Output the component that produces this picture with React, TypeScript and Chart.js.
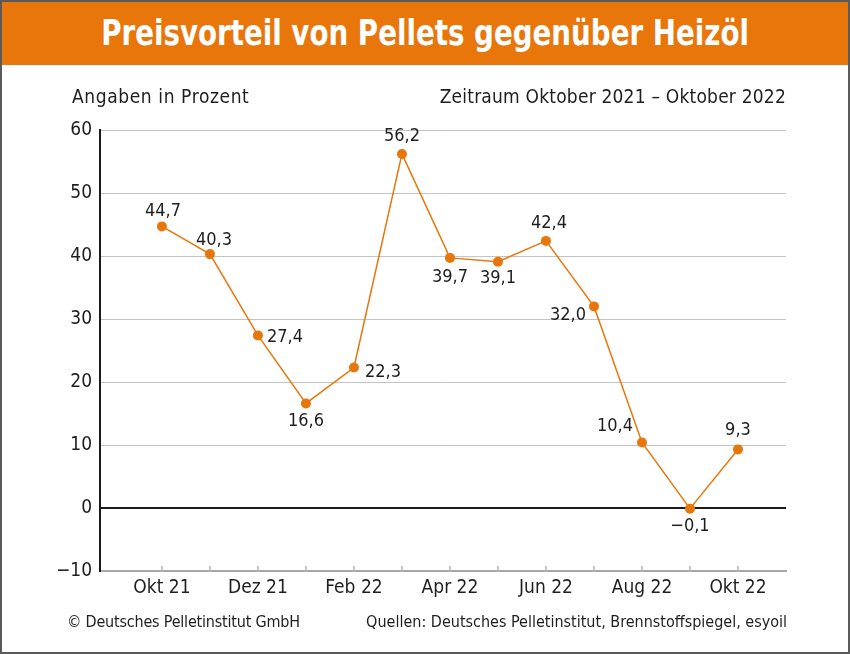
import React, { useEffect, useRef } from "react";
import { Chart, registerables } from "chart.js";

Chart.register(...registerables);

const months = ["Okt 21", "Nov 21", "Dez 21", "Jan 22", "Feb 22", "Mär 22", "Apr 22", "Mai 22", "Jun 22", "Jul 22", "Aug 22", "Sep 22", "Okt 22"];
const shownMonths = ["Okt 21", "Dez 21", "Feb 22", "Apr 22", "Jun 22", "Aug 22", "Okt 22"];
const advantage = [44.7, 40.3, 27.4, 16.6, 22.3, 56.2, 39.7, 39.1, 42.4, 32.0, 10.4, -0.1, 9.3];
const yTicks = [-10, 0, 10, 20, 30, 40, 50, 60];

// where each value label sits relative to its point
const labelPlacement: { dx: number; dy: number; align: CanvasTextAlign }[] = [
  { dx: 1, dy: -15, align: "center" },
  { dx: 4, dy: -14, align: "center" },
  { dx: 9, dy: 2, align: "left" },
  { dx: 0, dy: 18, align: "center" },
  { dx: 11, dy: 5, align: "left" },
  { dx: 0, dy: -18, align: "center" },
  { dx: 0, dy: 19, align: "center" },
  { dx: 0, dy: 17, align: "center" },
  { dx: 3, dy: -18, align: "center" },
  { dx: -8, dy: 9, align: "right" },
  { dx: -9, dy: -16, align: "right" },
  { dx: 0, dy: 18, align: "center" },
  { dx: 0, dy: -19, align: "center" },
];

const ORANGE = "#e8760b";
const TEXT = "#1e1e1e";
const FONT = '"DejaVu Sans Condensed", "Liberation Sans Narrow", "Open Sans", sans-serif';

const fmt = (v: number) => v.toFixed(1).replace(".", ",").replace("-", "\u2212");

const decorations = {
  id: "decorations",
  afterDatasetsDraw(chart: any) {
    const { ctx, scales } = chart;
    const x = scales.x;
    const y = scales.y;
    const base = y.getPixelForValue(-10);
    ctx.save();
    // small month ticks rising from the time axis
    ctx.strokeStyle = "#b4b4b4";
    ctx.lineWidth = 1.5;
    months.forEach((_, i) => {
      const px = Math.round(x.getPixelForValue(i));
      ctx.beginPath();
      ctx.moveTo(px, base);
      ctx.lineTo(px, base - 5);
      ctx.stroke();
    });
    // value labels
    const meta = chart.getDatasetMeta(0);
    ctx.fillStyle = TEXT;
    ctx.font = `18px ${FONT}`;
    ctx.textBaseline = "middle";
    meta.data.forEach((pt: any, i: number) => {
      const p = labelPlacement[i];
      ctx.textAlign = p.align;
      ctx.fillText(fmt(advantage[i]), pt.x + p.dx, pt.y + p.dy);
    });
    ctx.restore();
  },
};

export default function App() {
  const canvasRef = useRef<HTMLCanvasElement>(null);

  useEffect(() => {
    document.body.style.margin = "0";
    const chart = new Chart(canvasRef.current!, {
      type: "line",
      data: {
        datasets: [
          {
            data: advantage.map((v, i) => ({ x: i, y: v })),
            borderColor: ORANGE,
            backgroundColor: ORANGE,
            borderWidth: 1.5,
            pointRadius: 5,
            pointBorderWidth: 0,
            pointBackgroundColor: ORANGE,
            tension: 0,
          },
        ],
      },
      options: {
        animation: false,
        responsive: false,
        layout: { padding: { top: 130, right: 64, bottom: 54, left: 0 } },
        plugins: { legend: { display: false }, tooltip: { enabled: false } },
        scales: {
          x: {
            type: "linear",
            min: -1.29,
            max: 13,
            afterBuildTicks(scale: any) {
              scale.ticks = months.map((_, i) => ({ value: i }));
            },
            afterFit(scale: any) {
              scale.height = 29;
            },
            grid: { display: false, drawTicks: false },
            border: { display: true, color: "#a8a8a8", width: 2 },
            ticks: {
              autoSkip: false,
              maxRotation: 0,
              padding: 6,
              color: TEXT,
              font: { family: FONT, size: 19 },
              callback: (v: any) => (shownMonths.includes(months[v]) ? months[v] : ""),
            },
          },
          y: {
            min: -10,
            max: 60,
            afterBuildTicks(scale: any) {
              scale.ticks = yTicks.map((v) => ({ value: v }));
            },
            afterFit(scale: any) {
              scale.width = 100;
            },
            grid: {
              drawTicks: false,
              color: (c: any) => (c.tick.value === 0 ? "#1a1a1a" : c.tick.value === -10 ? "rgba(0,0,0,0)" : "#c4c4c4"),
              lineWidth: (c: any) => (c.tick.value === 0 ? 2 : 1),
            },
            border: { display: true, color: "#1a1a1a", width: 2 },
            ticks: {
              padding: 8,
              color: TEXT,
              font: { family: FONT, size: 19 },
              callback: (v: any) => String(v).replace("-", "\u2212"),
            },
          },
        },
      },
      plugins: [decorations],
    });
    return () => chart.destroy();
  }, []);

  const text: React.CSSProperties = { position: "absolute", fontFamily: FONT, color: TEXT, whiteSpace: "nowrap" };

  return (
    <div style={{ position: "fixed", left: 0, top: 0, width: 850, height: 654, background: "#fff", overflow: "hidden" }}>
      <canvas ref={canvasRef} width={850} height={654} style={{ position: "absolute", left: 0, top: 0 }} />
      <div
        style={{
          position: "absolute", left: 0, top: 0, width: 850, height: 65, background: ORANGE,
          display: "flex", alignItems: "center", justifyContent: "center",
        }}
      >
        <span
          style={{
            display: "inline-block", color: "#fff", fontFamily: FONT, fontWeight: 700, fontSize: 35,
            transform: "scaleX(0.88)", whiteSpace: "nowrap",
          }}
        >
          Preisvorteil von Pellets gegenüber Heizöl
        </span>
      </div>
      <div style={{ ...text, left: 72, top: 85, fontSize: 19, letterSpacing: 0.6 }}>Angaben in Prozent</div>
      <div style={{ ...text, right: 64, top: 85, fontSize: 19, letterSpacing: 0.2 }}>Zeitraum Oktober 2021 – Oktober 2022</div>
      <div style={{ ...text, left: 67, top: 612, fontSize: 16, letterSpacing: -0.2 }}>© Deutsches Pelletinstitut GmbH</div>
      <div style={{ ...text, right: 63, top: 612, fontSize: 16 }}>Quellen: Deutsches Pelletinstitut, Brennstoffspiegel, esyoil</div>
      <div style={{ position: "absolute", inset: 0, border: "2px solid #5a5a5a", pointerEvents: "none" }} />
    </div>
  );
}
